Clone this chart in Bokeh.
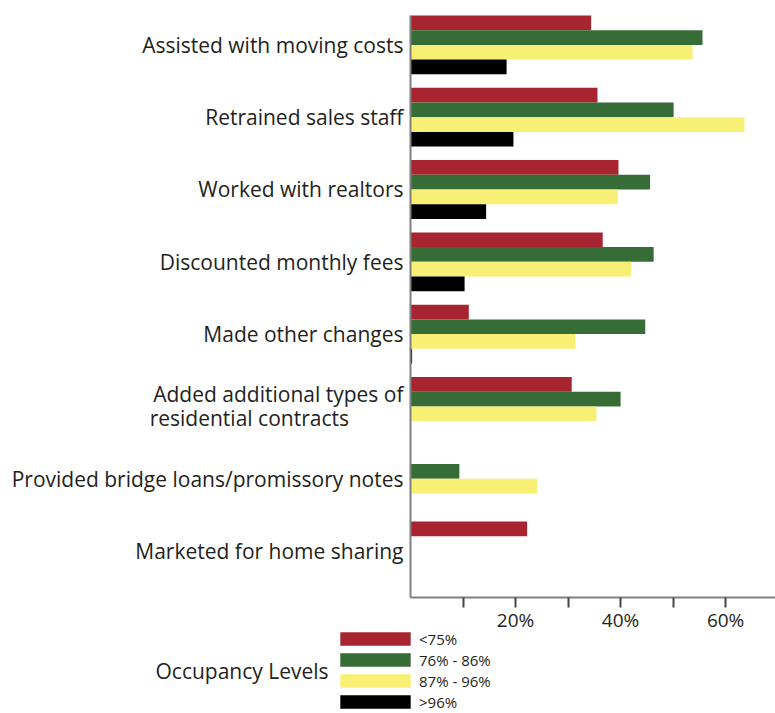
from bokeh.plotting import figure
from bokeh.models import (ColumnDataSource, Range1d, FixedTicker, Legend, LegendItem, Label)
from bokeh.transform import dodge
from bokeh.embed import file_html
from bokeh.resources import INLINE

# ---- data ----
categories = [
    "Assisted with moving costs",
    "Retrained sales staff",
    "Worked with realtors",
    "Discounted monthly fees",
    "Made other changes",
    "Added additional types of\nresidential contracts" + "\u00a0" * 10,
    "Provided bridge loans/promissory notes",
    "Marketed for home sharing",
]
series_names = ["<75%", "76% - 86%", "87% - 96%", ">96%"]
below_75 = [34.4, 35.6, 39.6, 36.6, 11.1, 30.7, 0.0, 22.2]
from_76_to_86 = [55.6, 50.1, 45.6, 46.3, 44.7, 40.0, 9.3, 0.0]
from_87_to_96 = [53.7, 63.6, 39.5, 42.0, 31.4, 35.4, 24.1, 0.0]
above_96 = [18.3, 19.6, 14.4, 10.3, 0.3, 0.0, 0.0, 0.0]
series_values = [below_75, from_76_to_86, from_87_to_96, above_96]
colors = ["#A82430", "#366C36", "#F8F074", "#000000"]
x_ticks = [10, 20, 30, 40, 50, 60]
x_tick_labels = ["", "20%", "", "40%", "", "60%"]
legend_title = "Occupancy Levels"

TEXT = "#231F20"
FONT = "Open Sans"

idx = list(range(len(categories)))
data = {"y": idx}
keys = ["s0", "s1", "s2", "s3"]
for k, vals in zip(keys, series_values):
    data[k] = vals
src = ColumnDataSource(data)

# Frame covers the whole canvas; axes are pinned at fixed locations.
X_MAX = 69.5
Y_BOTTOM = 7.643   # bottom edge of the bar area (category units)
Y_TOP = -0.407     # top edge of the bar area
p = figure(width=775, height=713, output_backend="svg", toolbar_location=None,
           x_range=Range1d(-78.07, X_MAX), y_range=Range1d(9.248, -0.614),
           min_border_left=0, min_border_right=0, min_border_top=0,
           min_border_bottom=0)
p.outline_line_color = None
p.xgrid.visible = False
p.ygrid.visible = False

bar_h = 0.2033
offsets = [-1.5 * bar_h, -0.5 * bar_h, 0.5 * bar_h, 1.5 * bar_h]
renderers = []
for k, off, c in zip(keys, offsets, colors):
    r = p.hbar(y=dodge("y", off), left=0, right=k, height=bar_h, source=src,
               fill_color=c, line_color=None)
    renderers.append(r)

# y axis
ya = p.yaxis[0]
ya.fixed_location = 0
ya.bounds = (Y_TOP, Y_BOTTOM)
ya.ticker = FixedTicker(ticks=idx)
ya.major_label_overrides = {i: c for i, c in zip(idx, categories)}
ya.major_tick_line_color = None
ya.minor_tick_line_color = None
ya.major_tick_out = 0
ya.major_tick_in = 0
ya.major_label_standoff = 7
ya.axis_line_color = "#808080"
ya.axis_line_width = 2
ya.major_label_text_font = FONT
ya.major_label_text_font_size = "21px"
ya.major_label_text_line_height = 0.86
ya.major_label_text_color = TEXT

# x axis
xa = p.xaxis[0]
xa.fixed_location = Y_BOTTOM
xa.bounds = (0, X_MAX)
xa.ticker = FixedTicker(ticks=x_ticks)
xa.major_label_overrides = {t: l for t, l in zip(x_ticks, x_tick_labels)}
xa.minor_tick_line_color = None
xa.major_tick_in = 0
xa.major_tick_out = 10
xa.major_tick_line_color = "#444444"
xa.major_tick_line_width = 2
xa.axis_line_color = "#808080"
xa.axis_line_width = 2
xa.major_label_standoff = 0
xa.major_label_text_font = FONT
xa.major_label_text_font_size = "19px"
xa.major_label_text_color = TEXT

legend = Legend(items=[LegendItem(label=n, renderers=[r]) for n, r in zip(series_names, renderers)],
                location=(331, 1), orientation="vertical",
                glyph_width=88, glyph_height=17, spacing=0, padding=0, margin=0,
                label_standoff=0, label_height=21, border_line_color=None,
                background_fill_alpha=0, label_text_font=FONT,
                label_text_font_size="15px", label_text_color=TEXT)
p.add_layout(legend, "center")

lbl = Label(x=155, y=43, x_units="screen", y_units="screen", text=legend_title,
            text_font=FONT, text_font_size="21px", text_color=TEXT,
            text_baseline="middle", text_align="left")
p.add_layout(lbl)

open("out.html", "w").write(file_html(p, INLINE))
